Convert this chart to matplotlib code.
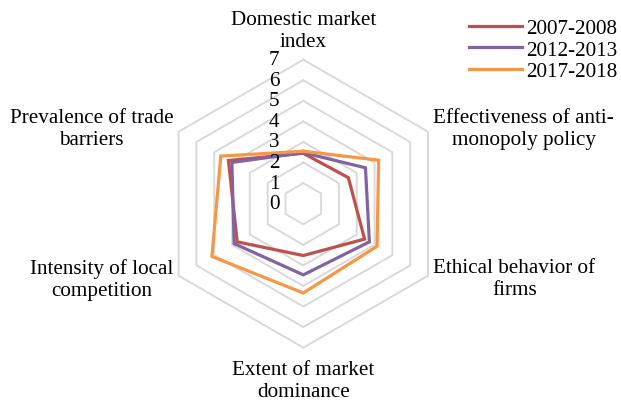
import numpy as np
import matplotlib
matplotlib.use("Agg")
import matplotlib.pyplot as plt

categories = ["Domestic market\nindex",
              "Effectiveness of anti-\nmonopoly policy",
              "Ethical behavior of\nfirms",
              "Extent of market\ndominance",
              "Intensity of local\ncompetition",
              "Prevalence of trade\nbarriers"]
series_names = ["2007-2008", "2012-2013", "2017-2018"]
v2007 = [2.45, 2.53, 3.44, 2.52, 3.71, 4.20]
v2012 = [2.48, 3.49, 3.71, 3.46, 3.88, 4.01]
v2017 = [2.55, 4.23, 4.14, 4.34, 5.13, 4.63]
ticks = [0, 1, 2, 3, 4, 5, 6, 7]
colors = ["#C0504D", "#8064A2", "#F79646"]

plt.rcParams['font.family'] = ['Liberation Serif', 'DejaVu Serif']
FS = 15.2

fig = plt.figure(figsize=(6.21, 4.02), dpi=100)
ax = fig.add_axes([0.2565, 0.1326, 0.4638, 0.7164], projection='polar')
ax.set_theta_offset(np.pi / 2)
ax.set_theta_direction(-1)
ax.set_ylim(0, 7)
ax.axis('off')

n = len(categories)
theta = np.arange(n) * 2 * np.pi / n
theta_c = np.append(theta, theta[0])

# hexagonal grid
for t in ticks[1:]:
    ax.plot(theta_c, [t] * (n + 1), color="#D9D9D9", lw=1.4, zorder=1, clip_on=False)

for vals, c, name in zip([v2007, v2012, v2017], colors, series_names):
    ax.plot(theta_c, list(vals) + [vals[0]], color=c, lw=2.3, label=name,
            zorder=3, clip_on=False, solid_joinstyle='miter')

# radial tick labels
for t in ticks:
    ax.annotate(str(t), xy=(0, t), xycoords='data', xytext=(-21, 0),
                textcoords='offset points', ha='center', va='center',
                fontsize=FS, zorder=4)

# category labels
pos = [
    (0, 7.4, 'center', 'bottom'),
    (1, 7.3, 'left', 'center'),
    (2, 7.3, 'left', 'center'),
    (3, 7.6, 'center', 'top'),
    (4, 7.3, 'right', 'center'),
    (5, 7.3, 'right', 'center'),
]
for i, r, ha, va in pos:
    ax.text(theta[i], r, categories[i], ha=ha, va=va, fontsize=FS,
            multialignment='center', linespacing=1.22)

fig.legend(loc='upper right', bbox_to_anchor=(1.008, 0.973), frameon=False,
           fontsize=FS, handlelength=2.5, handletextpad=0.2,
           labelspacing=0.08, borderaxespad=0.0)

fig.savefig("out.png", dpi=100)
